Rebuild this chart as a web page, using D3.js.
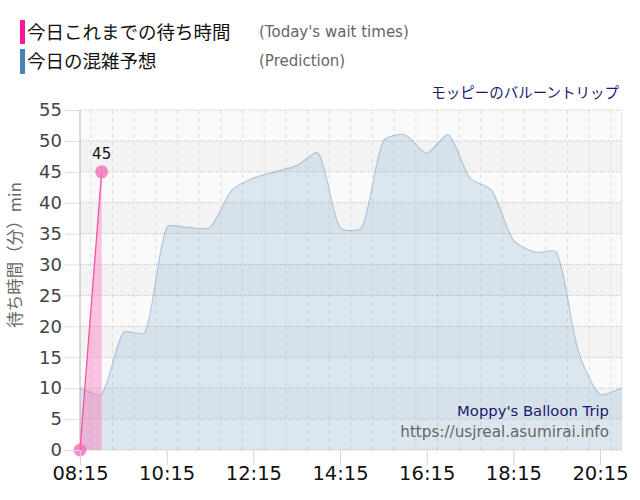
<!DOCTYPE html>
<html><head><meta charset="utf-8">
<script src="https://cdn.jsdelivr.net/npm/d3@7"></script>
<style>body{margin:0;background:#fff}svg{display:block}</style>
</head><body>
<svg id="c" width="640" height="500"></svg>
<script>
// ---- data ----
const times = ["08:15","08:45","09:15","09:45","10:15","10:45","11:15","11:45","12:15","12:45","13:15","13:45","14:15","14:45","15:15","15:45","16:15","16:45","17:15","17:45","18:15","18:45","19:15","19:45","20:15","20:45"];
const prediction = [10,9,19,19,36,36,36,42,44,45,46,48,36,36,50,51,48,51,44,42,34,32,32,16,9,10];
const todayTimes = ["08:15","08:45"];
const todayValues = [0,45];
const xTickLabels = ["08:15","10:15","12:15","14:15","16:15","18:15","20:15"];
const yTicks = [0,5,10,15,20,25,30,35,40,45,50,55];

const parse = d3.timeParse("%H:%M");
const svg = d3.select("#c");
const L = 80, R = 621.7, T = 110, B = 450;
const x = d3.scaleTime().domain([parse("08:15"), parse("20:45")]).range([L, R]);
const y = d3.scaleLinear().domain([0, 55]).range([B, T]);

// Chart.js-like spline curve
function chartjsCurve(t) {
  return function(context) {
    return {
      areaStart(){ this._line = 0; },
      areaEnd(){ this._line = NaN; },
      lineStart(){ this._pts = []; },
      point(a, b){ this._pts.push([+a, +b]); },
      lineEnd(){
        const p = this._pts, c = context, n = p.length;
        if (n) {
          this._line ? c.lineTo(p[0][0], p[0][1]) : c.moveTo(p[0][0], p[0][1]);
          const cp = p.map((pt, i) => {
            const pr = p[i-1] || pt, nx = p[i+1] || pt;
            const d01 = Math.hypot(pt[0]-pr[0], pt[1]-pr[1]);
            const d12 = Math.hypot(nx[0]-pt[0], nx[1]-pt[1]);
            const s = d01 + d12;
            const fa = s ? t*d01/s : 0, fb = s ? t*d12/s : 0;
            const cl = v => Math.max(T, Math.min(B, v));
            return {px: pt[0]-fa*(nx[0]-pr[0]), py: cl(pt[1]-fa*(nx[1]-pr[1])),
                    nx: pt[0]+fb*(nx[0]-pr[0]), ny: cl(pt[1]+fb*(nx[1]-pr[1]))};
          });
          for (let i = 1; i < n; i++) c.bezierCurveTo(cp[i-1].nx, cp[i-1].ny, cp[i].px, cp[i].py, p[i][0], p[i][1]);
        }
        if (this._line || (this._line !== 0 && n === 1)) c.closePath();
        this._line = 1 - this._line;
      }
    };
  };
}

// bands
const bandG = svg.append("g");
for (let i = 0; i < yTicks.length - 1; i++) {
  const lo = yTicks[i], hi = yTicks[i+1];
  bandG.append("rect").attr("x", L).attr("width", R - L)
    .attr("y", y(hi)).attr("height", y(lo) - y(hi))
    .attr("fill", (i % 2 === 1) ? "#f3f3f3" : "#fafafa");
}

// vertical grid every 30 min
const grid = svg.append("g");
const halfHours = d3.timeMinute.every(30).range(parse("08:15"), d3.timeMinute.offset(parse("20:45"), 1));
const majorSet = new Set(xTickLabels);
const fmt = d3.timeFormat("%H:%M");
halfHours.forEach(d => {
  const major = majorSet.has(fmt(d));
  if (+d === +parse("08:15")) return;
  grid.append("line").attr("x1", x(d)).attr("x2", x(d)).attr("y1", T).attr("y2", B)
    .attr("stroke", major ? "#dcdcdc" : "#dedede")
    .attr("stroke-dasharray", major ? null : "4,4")
    .attr("stroke-width", 1);
});
grid.append("line").attr("x1", R).attr("x2", R).attr("y1", T).attr("y2", B)
  .attr("stroke", "#d0d0d0").attr("stroke-dasharray", "1,1");
yTicks.forEach(v => {
  grid.append("line").attr("x1", L).attr("x2", R).attr("y1", y(v)).attr("y2", y(v))
    .attr("stroke", "#c8c8c8").attr("stroke-dasharray", "1,1");
});

// prediction area
const pdata = times.map((t, i) => ({t: parse(t), v: prediction[i]}));
const curve = chartjsCurve(0.25);
const area = d3.area().x(d => x(d.t)).y0(y(0)).y1(d => y(d.v)).curve(curve);
const line = d3.line().x(d => x(d.t)).y(d => y(d.v)).curve(curve);
svg.append("path").datum(pdata).attr("d", area).attr("fill", "rgba(70,130,180,0.16)");
svg.append("path").datum(pdata).attr("d", line).attr("fill", "none")
  .attr("stroke", "rgba(70,130,180,0.35)").attr("stroke-width", 1.2);

// left axis line
svg.append("line").attr("x1", L).attr("x2", L).attr("y1", T).attr("y2", B)
  .attr("stroke", "#b4b4b4").attr("stroke-width", 1);

// today's data
const tdata = todayTimes.map((t, i) => ({t: parse(t), v: todayValues[i]}));
const tArea = d3.area().x(d => x(d.t)).y0(y(0)).y1(d => y(d.v));
const tLine = d3.line().x(d => x(d.t)).y(d => y(d.v));
svg.append("path").datum(tdata).attr("d", tArea).attr("fill", "rgba(255,105,180,0.38)");
svg.append("path").datum(tdata).attr("d", tLine).attr("fill", "none")
  .attr("stroke", "#f550a5").attr("stroke-width", 1.3);
svg.selectAll(".pt").data(tdata).join("circle").attr("class", "pt")
  .attr("cx", d => x(d.t)).attr("cy", d => y(d.v)).attr("r", 6.5)
  .attr("fill", "rgba(242,110,185,0.8)");
svg.append("text").attr("x", x(tdata[1].t)).attr("y", y(tdata[1].v) - 13)
  .attr("text-anchor", "middle").attr("font-family", "DejaVu Sans").attr("font-size", 15)
  .attr("fill", "#111").text(tdata[1].v);

// y axis ticks
const yAxis = d3.axisLeft(y).tickValues(yTicks).tickSize(15).tickPadding(3);
const ya = svg.append("g").attr("transform", `translate(${L},0)`).call(yAxis);
ya.select(".domain").remove();
ya.selectAll(".tick line").attr("stroke", "#dddddd");
ya.selectAll(".tick text").attr("font-family", "DejaVu Sans").attr("font-size", 18).attr("fill", "#444");

// x axis ticks
const xAxis = d3.axisBottom(x).tickValues(xTickLabels.map(parse)).tickFormat(fmt).tickSize(15).tickPadding(1);
const xa = svg.append("g").attr("transform", `translate(0,${B})`).call(xAxis);
xa.select(".domain").remove();
xa.selectAll(".tick line").attr("stroke", "#d4d4d4");
xa.selectAll(".tick text").attr("font-family", "DejaVu Sans").attr("font-size", 19.5).attr("fill", "#111");

// y label
svg.append("text").attr("transform", "translate(21,255) rotate(-90)")
  .attr("text-anchor", "middle").attr("font-family", "Noto Sans CJK JP").attr("font-size", 16.5)
  .attr("fill", "#666").text("待ち時間（分）min");

// legend
svg.append("rect").attr("x", 20).attr("y", 20).attr("width", 5).attr("height", 24).attr("fill", "#ff1493");
svg.append("rect").attr("x", 20).attr("y", 49).attr("width", 5).attr("height", 25).attr("fill", "#4682b4");
svg.append("text").attr("x", 27).attr("y", 39).attr("font-family", "Noto Sans CJK JP").attr("font-size", 18.5)
  .attr("fill", "#111").text("今日これまでの待ち時間");
svg.append("text").attr("x", 27).attr("y", 68).attr("font-family", "Noto Sans CJK JP").attr("font-size", 18.5)
  .attr("fill", "#111").text("今日の混雑予想");
svg.append("text").attr("x", 259).attr("y", 37).attr("font-family", "DejaVu Sans").attr("font-size", 15)
  .attr("fill", "#666").text("(Today's wait times)");
svg.append("text").attr("x", 259).attr("y", 66).attr("font-family", "DejaVu Sans").attr("font-size", 15)
  .attr("fill", "#666").text("(Prediction)");
svg.append("text").attr("x", 619).attr("y", 98).attr("text-anchor", "end").attr("font-family", "Noto Sans CJK JP")
  .attr("font-size", 14.5).attr("fill", "#191970").text("モッピーのバルーントリップ");

// watermark
svg.append("text").attr("x", 609).attr("y", 416).attr("text-anchor", "end").attr("font-family", "DejaVu Sans")
  .attr("font-size", 14.8).attr("fill", "#191970").text("Moppy's Balloon Trip");
svg.append("text").attr("x", 609).attr("y", 437).attr("text-anchor", "end").attr("font-family", "DejaVu Sans")
  .attr("font-size", 15.2).attr("fill", "#666").text("https://usjreal.asumirai.info");
</script>
</body></html>
